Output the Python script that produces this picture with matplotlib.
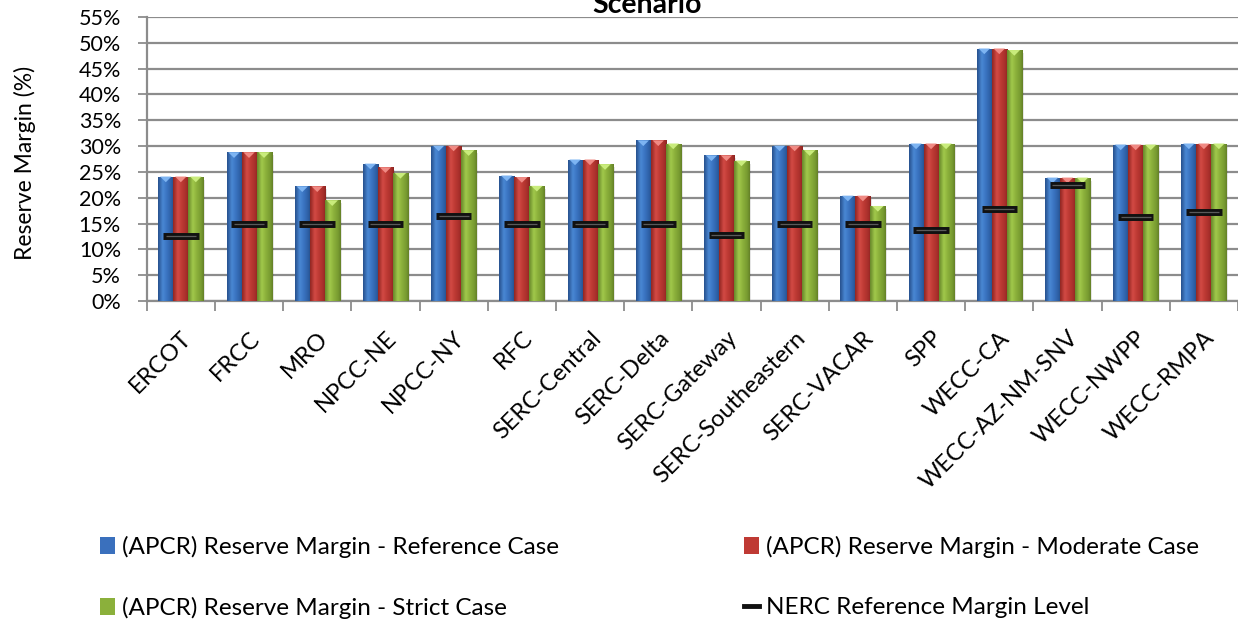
import numpy as np
import matplotlib
matplotlib.use("Agg")
import matplotlib.pyplot as plt
from matplotlib.patches import Patch, Polygon
from matplotlib.lines import Line2D
from matplotlib.colors import LinearSegmentedColormap

plt.rcParams['font.family'] = ['Lato', 'DejaVu Sans']

regions = ["ERCOT", "FRCC", "MRO", "NPCC-NE", "NPCC-NY", "RFC", "SERC-Central",
           "SERC-Delta", "SERC-Gateway", "SERC-Southeastern", "SERC-VACAR", "SPP",
           "WECC-CA", "WECC-AZ-NM-SNV", "WECC-NWPP", "WECC-RMPA"]

reference_case = [24.1, 28.8, 22.2, 26.6, 30.1, 24.3, 27.4, 31.1, 28.2, 30.1, 20.4, 30.5, 48.9, 23.9, 30.3, 30.5]
moderate_case  = [24.1, 28.8, 22.2, 25.9, 30.1, 24.0, 27.4, 31.1, 28.2, 30.1, 20.4, 30.5, 48.9, 23.9, 30.3, 30.5]
strict_case    = [24.1, 28.8, 19.5, 24.8, 29.2, 22.3, 26.5, 30.5, 27.2, 29.2, 18.4, 30.5, 48.6, 23.9, 30.3, 30.5]
nerc_level     = [12.6, 15.0, 15.0, 15.0, 16.5, 15.0, 15.0, 15.0, 12.8, 15.0, 15.0, 13.7, 17.8, 22.5, 16.3, 17.3]

series_labels = ["(APCR) Reserve Margin - Reference Case",
                 "(APCR) Reserve Margin - Moderate Case",
                 "(APCR) Reserve Margin - Strict Case"]
nerc_label = "NERC Reference Margin Level"

# colour ramps across each bar (left edge -> highlight -> body -> right edge)
ramps = {
    "blue":  ["#264f8c", "#4a88d4", "#3a74c2", "#2d5ea3", "#254c86"],
    "red":   ["#8f2521", "#d34b45", "#be3a34", "#a62e2a", "#8a2320"],
    "green": ["#66862a", "#a2c94c", "#8cb13b", "#779a30", "#637f27"],
}
tips = {"blue": "#7db4f2", "red": "#f08a84", "green": "#c9ec7c"}
solid = {"blue": "#3a70bd", "red": "#bf3a34", "green": "#8bb03b"}
order = ["blue", "red", "green"]

fig = plt.figure(figsize=(12.38, 6.23), dpi=100)
ax = fig.add_axes([0.1185, 0.5169, 0.8815, 0.4558])

x = np.arange(len(regions))
bw = 0.22
offsets = [-bw, 0.0, bw]
grad = np.linspace(0, 1, 64).reshape(1, -1)

ax.set_xlim(-0.5, len(regions) - 0.5)
ax.set_ylim(0, 55)

for vals, off, key in zip([reference_case, moderate_case, strict_case], offsets, order):
    cmap = LinearSegmentedColormap.from_list(key, list(zip([0, 0.3, 0.55, 0.85, 1.0], ramps[key])))
    # soft drop shadow
    ax.bar(x + off + 0.03, vals, bw, bottom=-0.6, color="#000000", alpha=0.10,
           zorder=2, linewidth=0)
    bars = ax.bar(x + off, vals, bw, color=solid[key], zorder=3, linewidth=0)
    for b in bars:
        x0, w, h = b.get_x(), b.get_width(), b.get_height()
        im = ax.imshow(grad, cmap=cmap, aspect="auto", extent=(x0, x0 + w, 0, h),
                       zorder=3.5, interpolation="bicubic")
        im.set_clip_path(b)
        tri = Polygon([(x0 + 0.12 * w, h), (x0 + 0.88 * w, h), (x0 + 0.5 * w, h - 1.1)],
                      closed=True, facecolor=tips[key], edgecolor="none", zorder=4)
        ax.add_patch(tri)

# NERC level markers: dark dash with a lighter centre line
ax.hlines(nerc_level, x - 0.26, x + 0.26, colors="#111111", linewidth=5.0,
          zorder=6, capstyle="butt")
ax.hlines(nerc_level, x - 0.22, x + 0.22, colors="#5a5a5a", linewidth=0.9, zorder=7)

ax.set_xlim(-0.5, len(regions) - 0.5)
ax.set_ylim(0, 55)

yt = np.arange(0, 56, 5)
ax.set_yticks(yt)
ax.set_yticklabels([f"{v}%" for v in yt], fontsize=15.5)
ax.yaxis.grid(True, color="#8c8c8c", linewidth=1.6, zorder=0)
ax.set_axisbelow(True)

ax.set_xticks(x)
ax.set_xticklabels(regions, rotation=45, ha="right", va="top",
                   rotation_mode="anchor", fontsize=17)
ax.set_xticks(np.arange(-0.5, len(regions)), minor=True)
ax.tick_params(axis="x", which="major", length=0, pad=19)
ax.tick_params(axis="x", which="minor", length=7, width=1.3, color="#8c8c8c")
ax.tick_params(axis="y", length=6.5, width=1.3, color="#8c8c8c", pad=12)

for s in ["top", "right"]:
    ax.spines[s].set_visible(False)
for s in ["left", "bottom"]:
    ax.spines[s].set_color("#8c8c8c")
    ax.spines[s].set_linewidth(1.6)

fig.text(25 / 1238, 1 - 163 / 623, "Reserve Margin (%)", rotation=90,
         ha="center", va="center", fontsize=16.5)

fig.text(647 / 1238, 1 - 13 / 623, "Scenario", ha="center", va="baseline",
         fontsize=20.5, fontweight="bold")

handles = [
    Patch(facecolor=solid["blue"], edgecolor="none"),
    Patch(facecolor=solid["green"], edgecolor="none"),
    Patch(facecolor=solid["red"], edgecolor="none"),
    Line2D([0], [0], color="#111111", linewidth=3.5),
]
labels = [series_labels[0], series_labels[2], series_labels[1], nerc_label]
fig.legend(handles, labels, ncol=2, loc="upper left",
           bbox_to_anchor=(100 / 1238, 1 - 536 / 623),
           frameon=False, fontsize=17.5, handlelength=0.62, handleheight=0.66,
           handletextpad=0.29, columnspacing=7.6, labelspacing=1.6,
           borderpad=0, borderaxespad=0)

fig.savefig("out.png", dpi=100)
